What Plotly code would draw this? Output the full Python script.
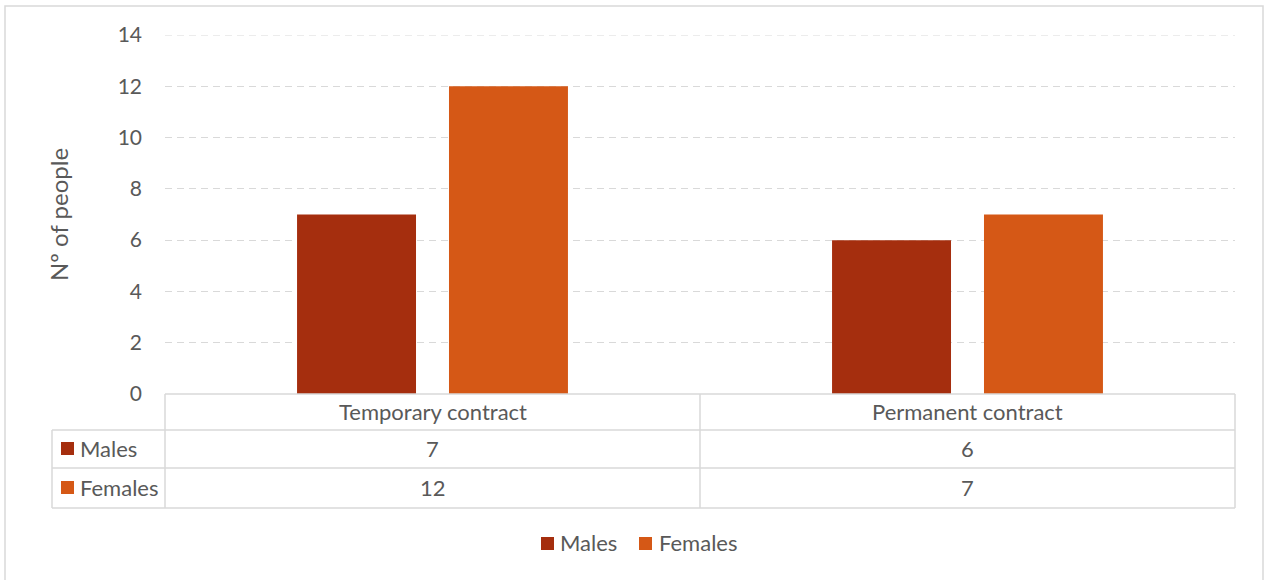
import plotly.graph_objects as go

# Chart data
categories = ["Temporary contract", "Permanent contract"]
series_names = ["Males", "Females"]
males = [7, 6]
females = [12, 7]
y_ticks = [0, 2, 4, 6, 8, 10, 12, 14]

colors = {"Males": "#A52E0E", "Females": "#D55816"}
text_color = "#595959"
line_color = "#D9D9D9"
font_family = "Lato, 'Open Sans', sans-serif"
fs = 22

W, H = 1265, 580
L, R, T, B = 165, 30, 35, 186
pw, ph = W - L - R, H - T - B


def px_x(x):
    return (x - L) / pw


def px_y(y):
    return (H - B - y) / ph


fig = go.Figure()
for name, vals in zip(series_names, [males, females]):
    fig.add_trace(go.Bar(
        x=categories, y=vals, name=name,
        marker=dict(color=colors[name], line=dict(width=0)),
        showlegend=False,
    ))

shapes = []
annotations = []
font = dict(size=fs, color=text_color, family=font_family)

# Top gridline (sits on the axis range edge)
shapes.append(dict(type="line", xref="paper", yref="y", x0=0, x1=1,
                   y0=y_ticks[-1], y1=y_ticks[-1],
                   line=dict(color=line_color, width=1.2, dash="7px,5px"), layer="below"))

# Data table grid beneath the plot
row_tops = [394, 430, 468, 508]
col_x = [165, 700, 1235]
lx = dict(type="line", xref="paper", yref="paper",
          line=dict(color=line_color, width=1.5), layer="above")
shapes.append({**lx, "x0": px_x(165), "x1": px_x(1235), "y0": px_y(394), "y1": px_y(394)})
for yy in row_tops[1:]:
    shapes.append({**lx, "x0": px_x(52), "x1": px_x(1235), "y0": px_y(yy), "y1": px_y(yy)})
for xx in col_x:
    shapes.append({**lx, "x0": px_x(xx), "x1": px_x(xx), "y0": px_y(394), "y1": px_y(508)})
shapes.append({**lx, "x0": px_x(52), "x1": px_x(52), "y0": px_y(430), "y1": px_y(508)})

# Column headers
for i, cat in enumerate(categories):
    cx = (col_x[i] + col_x[i + 1]) / 2
    annotations.append(dict(xref="paper", yref="paper", x=px_x(cx), y=px_y(411),
                            text=cat, showarrow=False, xanchor="center", yanchor="middle",
                            font=font))

# Table rows: series key + values
row_centers = [448, 487]
for r, (name, vals) in enumerate(zip(series_names, [males, females])):
    yc = row_centers[r]
    shapes.append(dict(type="rect", xref="paper", yref="paper",
                       x0=px_x(61), x1=px_x(74), y0=px_y(yc - 6), y1=px_y(yc + 7),
                       fillcolor=colors[name], line=dict(width=0)))
    annotations.append(dict(xref="paper", yref="paper", x=px_x(78), y=px_y(yc),
                            text=name, showarrow=False, xanchor="left", yanchor="middle",
                            font=font))
    for i, v in enumerate(vals):
        cx = (col_x[i] + col_x[i + 1]) / 2
        annotations.append(dict(xref="paper", yref="paper", x=px_x(cx), y=px_y(yc),
                                text=str(v), showarrow=False, xanchor="center", yanchor="middle",
                                font=font))

# Legend below the table
legend_items = [(541, 558), (639, 657)]
for name, (sx, tx) in zip(series_names, legend_items):
    shapes.append(dict(type="rect", xref="paper", yref="paper",
                       x0=px_x(sx), x1=px_x(sx + 13), y0=px_y(550), y1=px_y(537),
                       fillcolor=colors[name], line=dict(width=0)))
    annotations.append(dict(xref="paper", yref="paper", x=px_x(tx), y=px_y(542),
                            text=name, showarrow=False, xanchor="left", yanchor="middle",
                            font=font))

# Axis title
annotations.append(dict(xref="paper", yref="paper", x=px_x(58), y=px_y(215),
                        text="Nº of people", textangle=-90, showarrow=False,
                        xanchor="center", yanchor="middle",
                        font=dict(size=fs + 2, color=text_color, family=font_family)))

# Outer chart frame
shapes.append(dict(type="rect", xref="paper", yref="paper",
                   x0=px_x(5), x1=px_x(1263), y0=px_y(590), y1=px_y(6),
                   line=dict(color=line_color, width=1.5), layer="below"))

fig.update_layout(
    width=W, height=H,
    margin=dict(l=L, r=R, t=T, b=B, autoexpand=False),
    paper_bgcolor="white", plot_bgcolor="white",
    barmode="group", bargap=0.432, bargroupgap=0.217,
    font=dict(family=font_family, color=text_color, size=fs),
    xaxis=dict(showticklabels=False, showgrid=False, zeroline=False, showline=False,
               ticks="", fixedrange=True),
    yaxis=dict(range=[0, 14], tickvals=y_ticks, showgrid=True, gridcolor=line_color,
               griddash="7px,5px", gridwidth=1.2, zeroline=False, showline=False,
               ticks="", ticklabelstandoff=22,
               tickfont=dict(size=21, color=text_color, family=font_family)),
    shapes=shapes, annotations=annotations,
    showlegend=False,
)

fig.write_html("out.html")
